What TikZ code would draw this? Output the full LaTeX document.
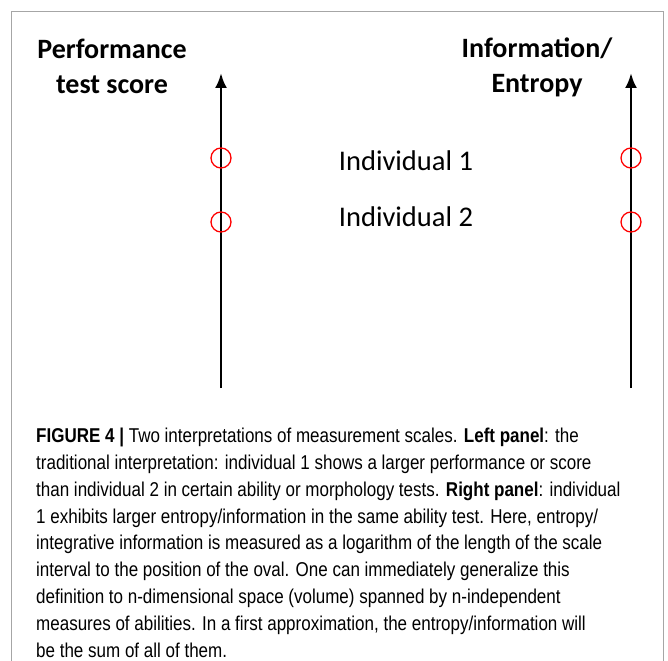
\documentclass[tikz,border=0pt]{standalone}
\usepackage{fontspec}
\setmainfont{Carlito}
\newfontfamily\capfont[FakeStretch=0.85]{Liberation Sans}
\usetikzlibrary{arrows.meta}

\begin{document}
\begin{tikzpicture}[x=1pt,y=-1pt,
 axis/.style={line width=2.8pt, -{Latex[length=15pt,width=12pt]}},
 oval/.style={draw=red, line width=1.3pt, circle, minimum size=20pt, inner sep=0pt},
 head/.style={font=\fontsize{28}{35}\selectfont\bfseries, align=center},
 who/.style={font=\fontsize{28.5}{30}\selectfont},
]
\useasboundingbox (0,0) rectangle (668,660);
% frame
\draw[gray!70, line width=0.8pt] (11,670) -- (11,11) -- (663,11) -- (663,670);

% scales
\coordinate (lbot) at (221,388);
\coordinate (ltop) at (221,73);
\coordinate (rbot) at (631,388);
\coordinate (rtop) at (631,73);
\draw[axis] (lbot) -- (ltop);
\draw[axis] (rbot) -- (rtop);

\node[head] (perf) at (112,66) {Performance\\test score};
\node[head] (info) at (537,67) {Information/\\Entropy};

\foreach \y/\n in {158/1,222/2} {
 \node[oval] (l\n) at (221,\y) {};
 \node[oval] (r\n) at (631,\y) {};
}
\node[who] (ind1) at (406,161) {Individual 1};
\node[who] (ind2) at (406,217) {Individual 2};

% caption
\node[anchor=north west, align=left, inner sep=0pt,
 font=\capfont\fontsize{20}{26.8}\selectfont] (cap) at (36,428) {%
\textbf{FIGURE 4 |} Two interpretations of measurement scales. \textbf{Left panel}: the\\
traditional interpretation: individual 1 shows a larger performance or score\\
than individual 2 in certain ability or morphology tests. \textbf{Right panel}: individual\\
1 exhibits larger entropy/information in the same ability test. Here, entropy/\\
integrative information is measured as a logarithm of the length of the scale\\
interval to the position of the oval. One can immediately generalize this\\
definition to n-dimensional space (volume) spanned by n-independent\\
measures of abilities. In a first approximation, the entropy/information will\\
be the sum of all of them.};
\end{tikzpicture}
\end{document}
